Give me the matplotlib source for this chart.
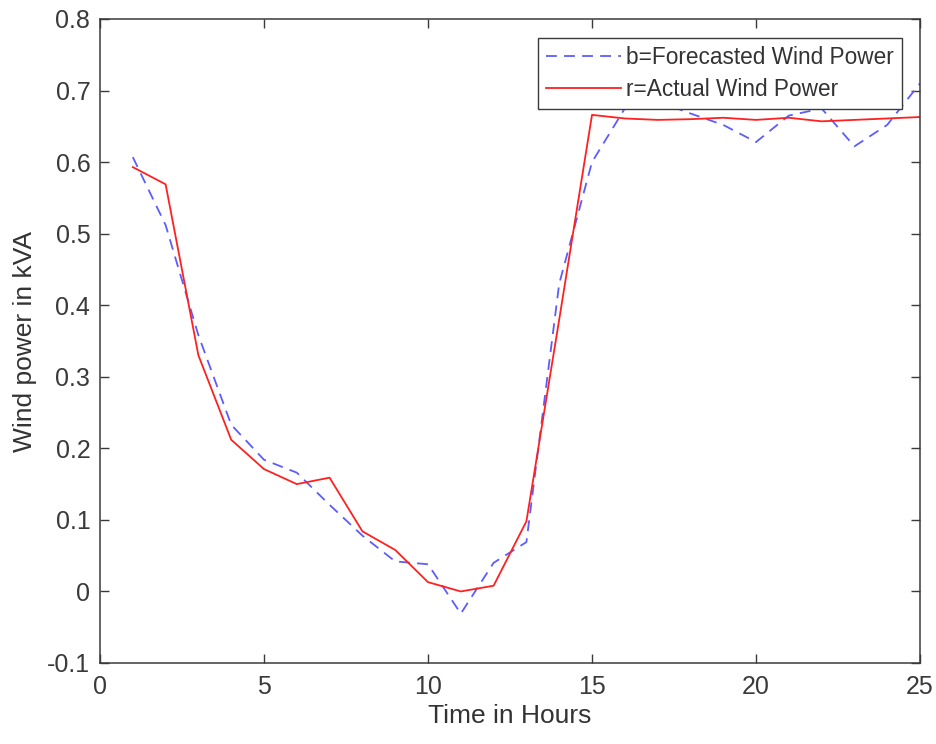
import matplotlib.pyplot as plt

plt.rcParams['font.family'] = ['Liberation Sans', 'DejaVu Sans']

# hourly values
hours = list(range(1, 26))
forecast = [0.607, 0.512, 0.358, 0.233, 0.184, 0.166, 0.121, 0.078, 0.042, 0.038,
            -0.031, 0.040, 0.069, 0.430, 0.600, 0.675, 0.685, 0.668, 0.652, 0.628,
            0.665, 0.675, 0.622, 0.652, 0.710]
actual = [0.593, 0.569, 0.330, 0.212, 0.171, 0.150, 0.159, 0.084, 0.058, 0.013,
          0.000, 0.008, 0.098, 0.380, 0.666, 0.661, 0.659, 0.660, 0.662, 0.659,
          0.662, 0.657, 0.659, 0.661, 0.663]

fig = plt.figure(figsize=(9.37, 7.44), dpi=100)
ax = fig.add_axes([100 / 937, 81 / 744, 820 / 937, 644 / 744])

ax.plot(hours, forecast, color='#5c5cff', linestyle=(0, (6, 4)), linewidth=1.3,
        label='b=Forecasted Wind Power')
ax.plot(hours, actual, color='#ff2020', linewidth=1.3, label='r=Actual Wind Power')

ax.set_xlim(0, 25)
ax.set_ylim(-0.1, 0.8)
ax.set_xticks([0, 5, 10, 15, 20, 25])
ax.set_yticks([-0.1, 0, 0.1, 0.2, 0.3, 0.4, 0.5, 0.6, 0.7, 0.8])
ax.set_yticklabels(['-0.1', '0', '0.1', '0.2', '0.3', '0.4', '0.5', '0.6', '0.7', '0.8'])
ax.tick_params(direction='in', top=True, right=True, labelsize=18, colors='#3a3a3a',
               length=6.5, width=1)
ax.tick_params(axis='y', pad=7)
ax.tick_params(axis='x', pad=9)
for s in ax.spines.values():
    s.set_color('#3a3a3a')
    s.set_linewidth(1.1)

ax.set_xlabel('Time in Hours', fontsize=19, color='#333333', labelpad=3)
ax.set_ylabel('Wind power in kVA', fontsize=19, color='#333333', labelpad=7)

leg = ax.legend(loc='upper right', bbox_to_anchor=(902 / 937, (744 - 38) / 744),
                bbox_transform=fig.transFigure, fontsize=16.3, frameon=True,
                fancybox=False, framealpha=1, edgecolor='#3a3a3a',
                borderpad=0.35, labelspacing=0.4, handlelength=3.3, handletextpad=0.25,
                borderaxespad=0)
leg.get_frame().set_linewidth(1)
for t in leg.get_texts():
    t.set_color('#333333')

fig.savefig('out.png', dpi=100, facecolor='white')
